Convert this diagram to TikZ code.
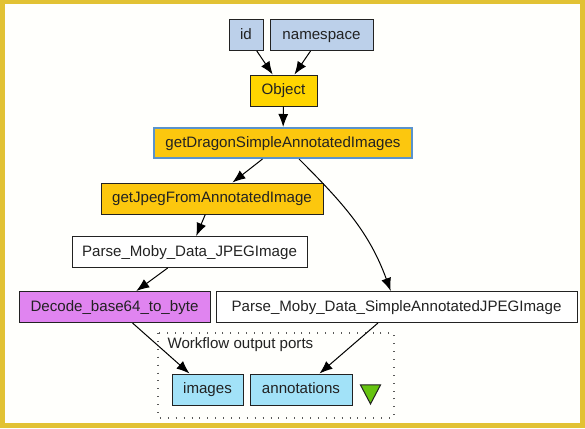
\documentclass[tikz,border=0pt]{standalone}
\usepackage{fontspec}
\setmainfont{Liberation Sans}
\usepackage{tikz}
\usepackage{xcolor}
\usetikzlibrary{arrows.meta,positioning,calc,shapes.geometric}
\definecolor{FrameYellow}{HTML}{E2C234}
\definecolor{PaperWhite}{HTML}{FFFFFC}
\definecolor{InputBlue}{HTML}{BCD0EA}
\definecolor{ObjectGold}{HTML}{FFD500}
\definecolor{ServiceOrange}{HTML}{FCC70E}
\definecolor{ServiceEdge}{HTML}{5A93CC}
\definecolor{BeanshellViolet}{HTML}{E084F0}
\definecolor{OutputCyan}{HTML}{A2E2F8}
\definecolor{MarkerGreen}{HTML}{66C410}
\definecolor{InkGray}{HTML}{222222}
\tikzset{
    % Base processor box
    procbox/.style={
        draw=InkGray,
        fill=white,
        text=InkGray,
        line width=1pt,
        minimum height=31pt,
        inner xsep=6pt,
        text height=10.5pt,
        text depth=2.5pt,
        font=\fontsize{15.1}{17}\selectfont
    },
    % Workflow input ports
    inputnode/.style={
        procbox,
        fill=InputBlue
    },
    % String constant
    objectnode/.style={
        procbox,
        fill=ObjectGold
    },
    % Moby service
    servicenode/.style={
        procbox,
        fill=ServiceOrange
    },
    % Local worker
    localnode/.style={
        procbox,
        fill=BeanshellViolet
    },
    % Workflow output ports
    outputnode/.style={
        procbox,
        fill=OutputCyan
    },
    % Data link
    datalink/.style={
        -{Latex[length=13pt,width=10pt]},
        line width=1pt,
        draw=black
    }
}
\begin{document}
\begin{tikzpicture}[x=1pt, y=-1pt]
        % Frame
        \fill[FrameYellow] (0,0) rectangle (585,428);
        \fill[PaperWhite] (5,4) rectangle (580,423);
        \useasboundingbox (0,0) rectangle (585,428);

        % Output ports box
        \draw[gray!70!black, line width=1.1pt, dash pattern=on 0.9pt off 7pt] (158,333) rectangle (394,418);
        \node[anchor=west, text=InkGray, font=\fontsize{15.1}{17}\selectfont] (portlabel) at (164,345) {Workflow output ports};

        % Processor nodes
        \node[inputnode, minimum width=34pt] (id) at (246,35) {id};
        \node[inputnode, minimum width=103pt] (namespace) at (321.5,35) {namespace};
        \node[objectnode, minimum width=67pt] (object) at (283.5,90.5) {Object};
        \node[servicenode, draw=ServiceEdge, line width=2pt, minimum width=258pt, minimum height=30pt] (dragon) at (283,143) {getDragonSimpleAnnotatedImages};
        \node[servicenode, minimum width=222pt] (getjpeg) at (212,198.5) {getJpegFromAnnotatedImage};
        \node[procbox, minimum width=235pt] (parsejpeg) at (189.5,252) {Parse\_Moby\_Data\_JPEGImage};
        \node[localnode, minimum width=191pt] (decode) at (114.5,307) {Decode\_base64\_to\_byte};
        \node[procbox, minimum width=361pt] (parsesimple) at (396.5,307) {Parse\_Moby\_Data\_SimpleAnnotatedJPEGImage};
        \node[outputnode, minimum width=71pt] (images) at (207.5,389.5) {images};
        \node[outputnode, minimum width=102pt] (annotations) at (301,389.5) {annotations};
        \node[draw=InkGray, fill=MarkerGreen, line width=1pt, isosceles triangle, isosceles triangle stretches, shape border rotate=-90, minimum width=20pt, minimum height=19pt, inner sep=0pt] (marker) at (370.5,391) {};

        % Data links
        \draw[datalink] (id) -- (object);
        \draw[datalink] (namespace) -- (object);
        \draw[datalink] (object) -- (dragon);
        \draw[datalink] (dragon) -- (getjpeg);
        \draw[datalink] (dragon) to[out=-45, in=110] (parsesimple);
        \draw[datalink] (getjpeg) -- (parsejpeg);
        \draw[datalink] (parsejpeg) -- (decode);
        \draw[datalink] (decode) -- (images);
        \draw[datalink] (parsesimple) -- (annotations);
    \end{tikzpicture}
\end{document}
